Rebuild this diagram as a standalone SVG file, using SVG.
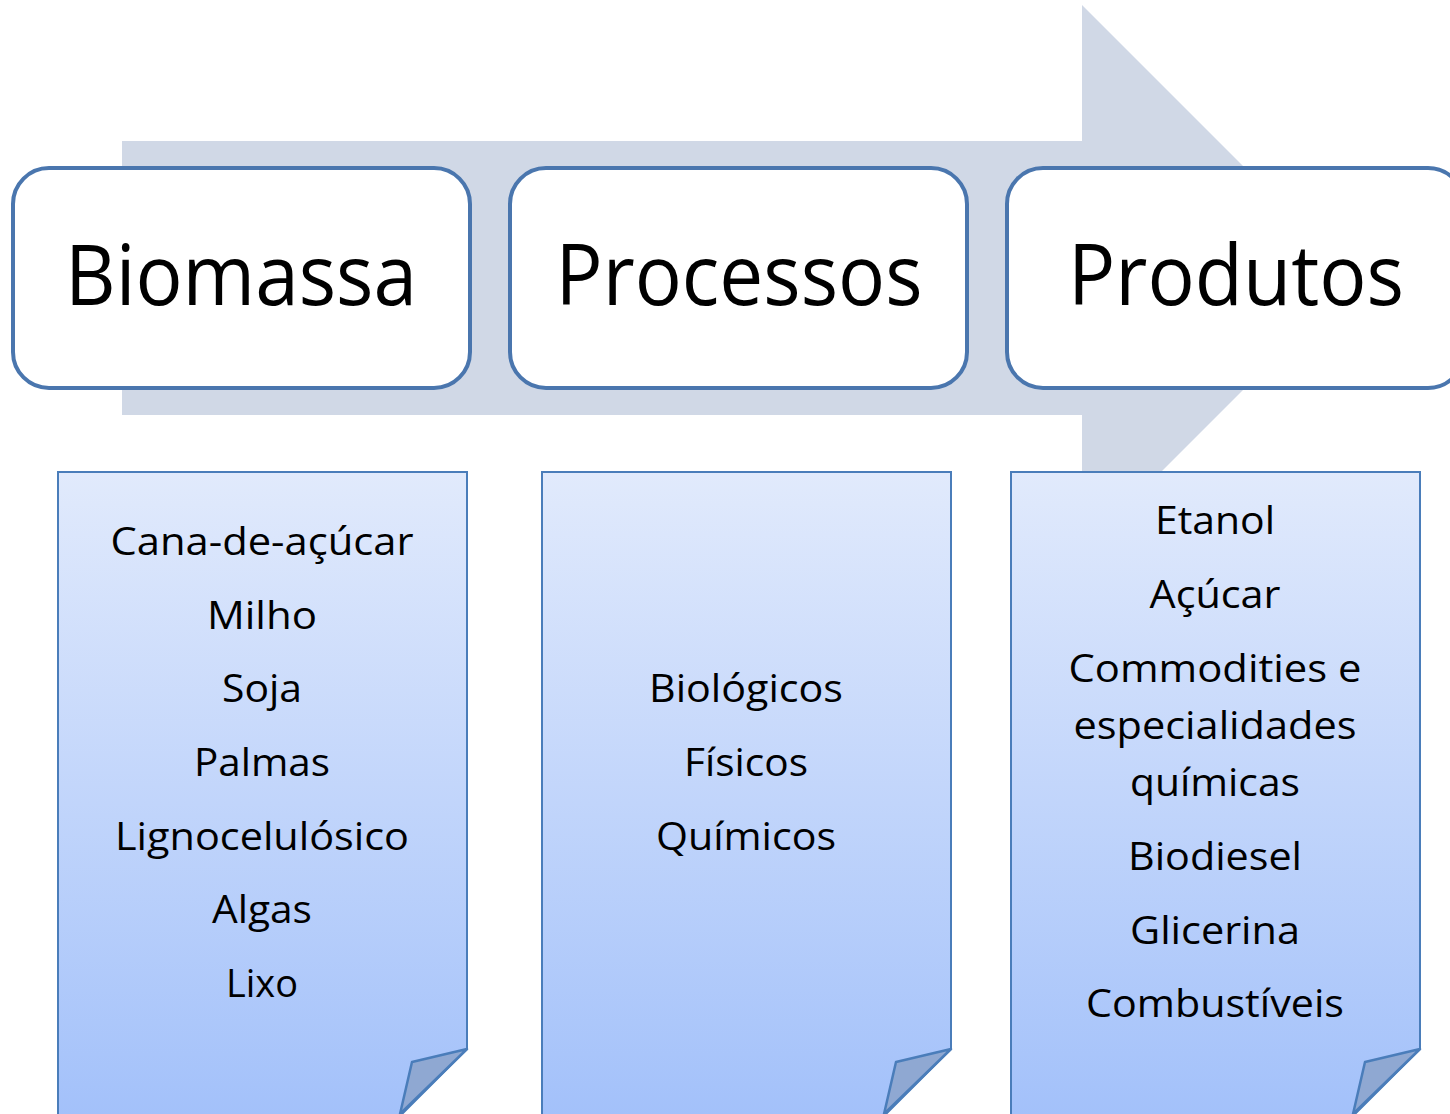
<svg xmlns="http://www.w3.org/2000/svg" width="1450" height="1114" viewBox="0 0 1450 1114">
<defs>
<linearGradient id="g" x1="0" y1="0" x2="0" y2="1">
<stop offset="0" stop-color="#e1eafc"/>
<stop offset="1" stop-color="#a3c1fa"/>
</linearGradient>
<style>
.hdr{fill:#fff;stroke:#4a76ae;stroke-width:4}
.note{fill:url(#g);stroke:#4a7dba;stroke-width:2}
.fold{fill:#8fa8d2;stroke:#4a7dba;stroke-width:2.5;stroke-linejoin:round}
.t{font-family:"Open Sans","Liberation Sans",sans-serif;fill:#000;text-anchor:middle}
.h{font-size:84px}
.b{font-size:38px}
</style>
</defs>
<g id="arrow">
<polygon points="122,141 1082,141 1082,5 1355,278 1082,551 1082,415 122,415" fill="#d0d8e6"/>
</g>
<g id="connectors"></g>
<g id="biomassa">
<rect class="hdr" x="13" y="168" width="457" height="220" rx="36"/>
<text class="t h" x="241" y="305" textLength="352" lengthAdjust="spacingAndGlyphs">Biomassa</text>
</g>
<g id="processos">
<rect class="hdr" x="510" y="168" width="457" height="220" rx="36"/>
<text class="t h" x="739" y="305" textLength="367" lengthAdjust="spacingAndGlyphs">Processos</text>
</g>
<g id="produtos">
<rect class="hdr" x="1007" y="168" width="457" height="220" rx="36"/>
<text class="t h" x="1236" y="305" textLength="336" lengthAdjust="spacingAndGlyphs">Produtos</text>
</g>
<g id="lista-biomassa">
<path class="note" d="M58,472 H467 V1049 L400,1116 H58 Z"/>
<path class="fold" d="M467,1049 L412,1062 L400,1114 Z"/>
<text class="t b" x="262" y="555" textLength="303" lengthAdjust="spacingAndGlyphs">Cana-de-açúcar</text>
<text class="t b" x="262" y="629" textLength="110" lengthAdjust="spacingAndGlyphs">Milho</text>
<text class="t b" x="262" y="702" textLength="80" lengthAdjust="spacingAndGlyphs">Soja</text>
<text class="t b" x="262" y="776" textLength="136" lengthAdjust="spacingAndGlyphs">Palmas</text>
<text class="t b" x="262" y="850" textLength="294" lengthAdjust="spacingAndGlyphs">Lignocelulósico</text>
<text class="t b" x="262" y="923" textLength="100" lengthAdjust="spacingAndGlyphs">Algas</text>
<text class="t b" x="262" y="997" textLength="72" lengthAdjust="spacingAndGlyphs">Lixo</text>
</g>
<g id="lista-processos">
<path class="note" d="M542,472 H951 V1049 L884,1116 H542 Z"/>
<path class="fold" d="M951,1049 L896,1062 L884,1114 Z"/>
<text class="t b" x="746" y="702" textLength="194" lengthAdjust="spacingAndGlyphs">Biológicos</text>
<text class="t b" x="746" y="776" textLength="124" lengthAdjust="spacingAndGlyphs">Físicos</text>
<text class="t b" x="746" y="850" textLength="180" lengthAdjust="spacingAndGlyphs">Químicos</text>
</g>
<g id="lista-produtos">
<path class="note" d="M1011,472 H1420 V1049 L1353,1116 H1011 Z"/>
<path class="fold" d="M1420,1049 L1365,1062 L1353,1114 Z"/>
<text class="t b" x="1215" y="534" textLength="120" lengthAdjust="spacingAndGlyphs">Etanol</text>
<text class="t b" x="1215" y="608" textLength="131" lengthAdjust="spacingAndGlyphs">Açúcar</text>
<text class="t b" x="1215" y="682" textLength="293" lengthAdjust="spacingAndGlyphs">Commodities e</text>
<text class="t b" x="1215" y="739" textLength="283" lengthAdjust="spacingAndGlyphs">especialidades</text>
<text class="t b" x="1215" y="796" textLength="170" lengthAdjust="spacingAndGlyphs">químicas</text>
<text class="t b" x="1215" y="870" textLength="174" lengthAdjust="spacingAndGlyphs">Biodiesel</text>
<text class="t b" x="1215" y="944" textLength="170" lengthAdjust="spacingAndGlyphs">Glicerina</text>
<text class="t b" x="1215" y="1017" textLength="258" lengthAdjust="spacingAndGlyphs">Combustíveis</text>
</g>
</svg>
